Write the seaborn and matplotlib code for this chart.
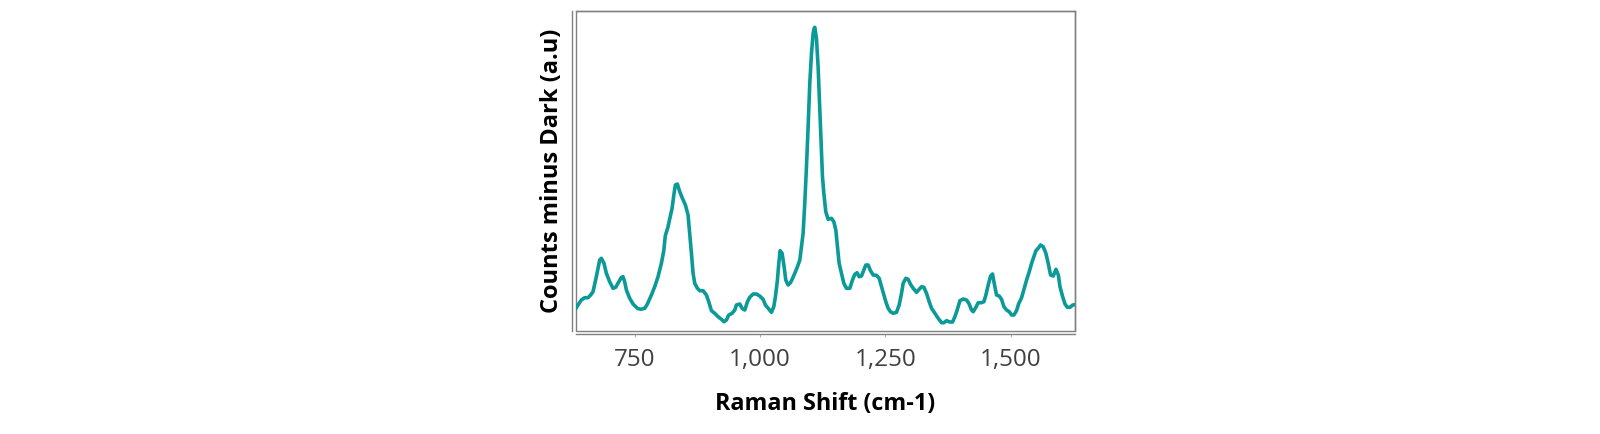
import matplotlib
matplotlib.use("Agg")
import matplotlib.pyplot as plt
from matplotlib.ticker import StrMethodFormatter
import pandas as pd
import seaborn as sns

# Raman spectrum (counts are arbitrary units)
raman_shift = [
    631.6, 636.9, 643.6, 650.2, 656.9, 662.2, 666.9, 673.5, 680.2, 683.5,
    688.8, 693.5, 700.1, 706.8, 712.1, 716.7, 723.4, 726.7, 730.0, 733.4,
    740.0, 746.7, 755.3, 762.0, 770.0, 775.3, 783.3, 789.9, 796.5, 803.2,
    808.0, 811.0, 816.0, 820.0, 824.5, 828.5, 831.1, 835.1, 839.8, 845.1,
    851.1, 856.4, 859.7, 863.1, 866.4, 869.7, 875.0, 879.7, 886.3, 893.0,
    897.6, 903.0, 909.6, 916.2, 922.9, 928.2, 932.9, 937.5, 944.2, 949.5,
    952.8, 959.5, 964.1, 969.5, 974.8, 979.4, 986.1, 992.7, 999.4, 1006.0,
    1010.7, 1016.0, 1022.7, 1027.3, 1030.6, 1034.6, 1037.3, 1039.9, 1043.9, 1047.9,
    1051.2, 1055.9, 1060.5, 1063.9, 1069.2, 1074.5, 1079.2, 1082.5, 1085.8, 1089.1,
    1092.5, 1095.8, 1099.1, 1102.5, 1105.8, 1107.8, 1109.1, 1112.4, 1115.7, 1119.1,
    1122.4, 1124.4, 1127.1, 1131.0, 1135.7, 1142.4, 1147.0, 1151.0, 1153.6, 1157.6,
    1162.3, 1167.0, 1172.3, 1178.9, 1184.2, 1188.9, 1193.5, 1197.5, 1202.2, 1206.9,
    1210.8, 1215.5, 1220.2, 1225.5, 1232.1, 1237.4, 1242.1, 1246.8, 1250.7, 1255.4,
    1260.0, 1265.4, 1272.0, 1277.3, 1282.0, 1285.3, 1290.6, 1295.3, 1299.9, 1305.3,
    1311.9, 1317.2, 1321.9, 1326.6, 1331.9, 1337.2, 1341.9, 1348.5, 1355.2, 1361.8,
    1366.5, 1371.8, 1378.4, 1383.7, 1388.4, 1393.0, 1398.4, 1405.0, 1411.7, 1417.0,
    1421.6, 1425.0, 1430.3, 1434.9, 1441.6, 1446.3, 1450.2, 1454.9, 1459.6, 1463.5,
    1466.2, 1471.5, 1476.8, 1481.5, 1486.2, 1491.5, 1496.8, 1501.5, 1506.1, 1511.4,
    1515.4, 1521.4, 1526.1, 1531.4, 1536.7, 1541.4, 1546.0, 1550.0, 1555.3, 1559.3,
    1564.6, 1569.9, 1574.5, 1579.2, 1584.5, 1590.0, 1594.7, 1598.0, 1603.3, 1608.0,
    1612.6, 1618.0, 1623.3, 1628.0,
]
counts = [
    214, 257, 307, 330, 330, 357, 390, 540, 707, 724,
    674, 574, 490, 424, 434, 474, 534, 540, 490, 407,
    324, 267, 224, 214, 224, 267, 357, 440, 540, 674,
    800, 950, 1030, 1120, 1224, 1374, 1457, 1467, 1390, 1324,
    1257, 1157, 974, 774, 574, 474, 424, 400, 400, 357,
    290, 200, 174, 140, 114, 90, 107, 157, 174, 207,
    257, 267, 224, 207, 290, 334, 367, 367, 347, 314,
    257, 224, 184, 240, 340, 507, 674, 800, 774, 640,
    507, 457, 480, 514, 574, 640, 707, 840, 974, 1274,
    1640, 2040, 2474, 2774, 2974, 3024, 3034, 2924, 2640, 2207,
    1807, 1540, 1374, 1190, 1114, 1124, 1090, 1007, 874, 674,
    574, 474, 424, 424, 507, 564, 580, 540, 547, 607,
    657, 657, 600, 557, 554, 524, 440, 357, 290, 224,
    190, 174, 184, 257, 374, 474, 524, 514, 464, 424,
    384, 414, 440, 434, 374, 290, 224, 174, 124, 80,
    80, 100, 87, 87, 140, 207, 300, 317, 307, 267,
    207, 190, 234, 280, 280, 290, 357, 457, 547, 567,
    490, 357, 347, 314, 240, 207, 190, 157, 157, 200,
    267, 330, 414, 507, 590, 674, 740, 800, 830, 857,
    840, 774, 674, 557, 547, 614, 557, 440, 340, 267,
    234, 234, 257, 260,
]
x_ticks = [750, 1000, 1250, 1500]

df = pd.DataFrame({"Raman Shift (cm-1)": raman_shift, "Counts": counts})

sns.set_theme(style="white")
plt.rcParams["font.family"] = ["Open Sans", "DejaVu Sans"]

fig = plt.figure(figsize=(16, 4.34), dpi=100)
ax = fig.add_axes([0.3597, 0.238, 0.3122, 0.7373])

sns.lineplot(data=df, x="Raman Shift (cm-1)", y="Counts", ax=ax,
             color="#0b9a97", linewidth=2.6, sort=False)

ax.set_xlim(632, 1628)
ax.set_ylim(0, 3200)
ax.set_xticks(x_ticks)
ax.xaxis.set_major_formatter(StrMethodFormatter("{x:,.0f}"))
ax.set_yticks([])

# frame around the plot area, plus detached left/bottom axis lines
ax.patch.set_edgecolor("#808080")
ax.patch.set_linewidth(1.0)
for side in ["top", "right"]:
    ax.spines[side].set_color("#808080")
    ax.spines[side].set_linewidth(1.0)
for side in ["left", "bottom"]:
    ax.spines[side].set_visible(True)
    ax.spines[side].set_color("#808080")
    ax.spines[side].set_linewidth(1.0)
    ax.spines[side].set_position(("outward", 2.6))

ax.tick_params(axis="x", bottom=True, direction="out", length=2.5, width=0.8,
               color="#b0b0b0", labelsize=17.5, labelcolor="#404040", pad=7)

ax.set_xlabel("Raman Shift (cm-1)", fontsize=16.8, fontweight="bold",
              color="black", labelpad=15)
ax.set_ylabel("Counts minus Dark (a.u)", fontsize=17, fontweight="bold",
              color="black", labelpad=6)

fig.savefig("out.png", dpi=100)
